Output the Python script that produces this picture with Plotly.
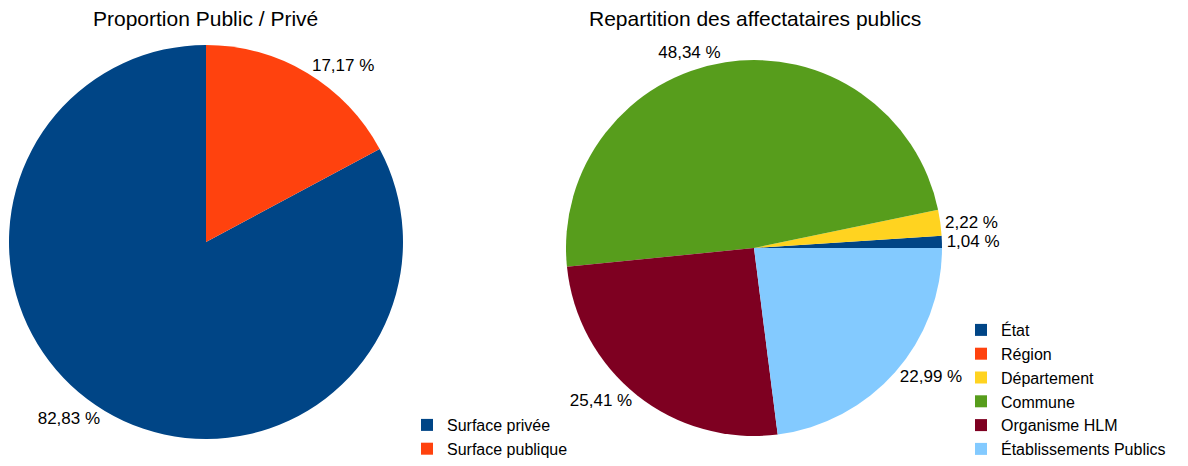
import plotly.graph_objects as go

# Left pie data
left_labels = ["Surface privée", "Surface publique"]
left_values = [82.83, 17.17]
left_colors = ["#004586", "#ff420e"]

# Right pie data
right_labels = ["État", "Région", "Département", "Commune", "Organisme HLM", "Établissements Publics"]
right_values = [1.04, 0.0, 2.22, 48.34, 25.41, 22.99]
right_colors = ["#004586", "#ff420e", "#ffd320", "#579d1c", "#7e0021", "#83caff"]

titles = ["Proportion Public / Privé", "Repartition des affectataires publics"]

FONT = "Liberation Sans, Arial, sans-serif"


def fmt(v):
    return ("%.2f %%" % v).replace(".", ",") if v > 0 else ""


def first_slice_deg(values):
    # plotly's counterclockwise mode places the first slice clockwise of `rotation`
    return 360.0 * values[0] / sum(values)


W, H = 1188, 466

fig = go.Figure()
fig.add_trace(go.Pie(
    labels=left_labels, values=left_values,
    marker=dict(colors=left_colors, line=dict(width=0)),
    sort=False, direction="counterclockwise",
    rotation=360 - first_slice_deg(left_values),
    text=[fmt(v) for v in left_values], textinfo="text",
    textposition="outside", outsidetextfont=dict(size=17, color="#000000", family=FONT),
    domain=dict(x=[9 / W, 403 / W], y=[1 - 439 / H, 1 - 45 / H]),
    legend="legend", hoverinfo="label+percent",
))
fig.add_trace(go.Pie(
    labels=right_labels, values=right_values,
    marker=dict(colors=right_colors, line=dict(width=0)),
    sort=False, direction="counterclockwise",
    rotation=90 - first_slice_deg(right_values),
    text=[fmt(v) for v in right_values], textinfo="text",
    textposition="outside", outsidetextfont=dict(size=17, color="#000000", family=FONT),
    domain=dict(x=[566 / W, 942 / W], y=[1 - 436 / H, 1 - 60 / H]),
    legend="legend2", hoverinfo="label+percent",
))

fig.update_layout(
    width=W, height=H,
    margin=dict(l=0, r=0, t=0, b=0),
    paper_bgcolor="white", plot_bgcolor="white",
    font=dict(family=FONT, size=16, color="#000000"),
    legend=dict(x=407 / W, y=0.0, xanchor="left", yanchor="bottom",
                font=dict(size=16, family=FONT), bgcolor="rgba(0,0,0,0)",
                itemclick=False, traceorder="normal"),
    legend2=dict(x=961 / W, y=0.0, xanchor="left", yanchor="bottom",
                 font=dict(size=16, family=FONT), bgcolor="rgba(0,0,0,0)",
                 itemclick=False, traceorder="normal"),
    annotations=[
        dict(text=titles[0], x=206 / W, y=1 - 18 / H, xref="paper", yref="paper",
             showarrow=False, xanchor="center", yanchor="middle",
             font=dict(size=21, family=FONT, color="#000000")),
        dict(text=titles[1], x=755 / W, y=1 - 18 / H, xref="paper", yref="paper",
             showarrow=False, xanchor="center", yanchor="middle",
             font=dict(size=21, family=FONT, color="#000000")),
    ],
)

fig.write_html(
    "out.html",
    config={"displayModeBar": False},
    post_script="document.body.style.margin='0';document.body.style.overflow='hidden';",
)
